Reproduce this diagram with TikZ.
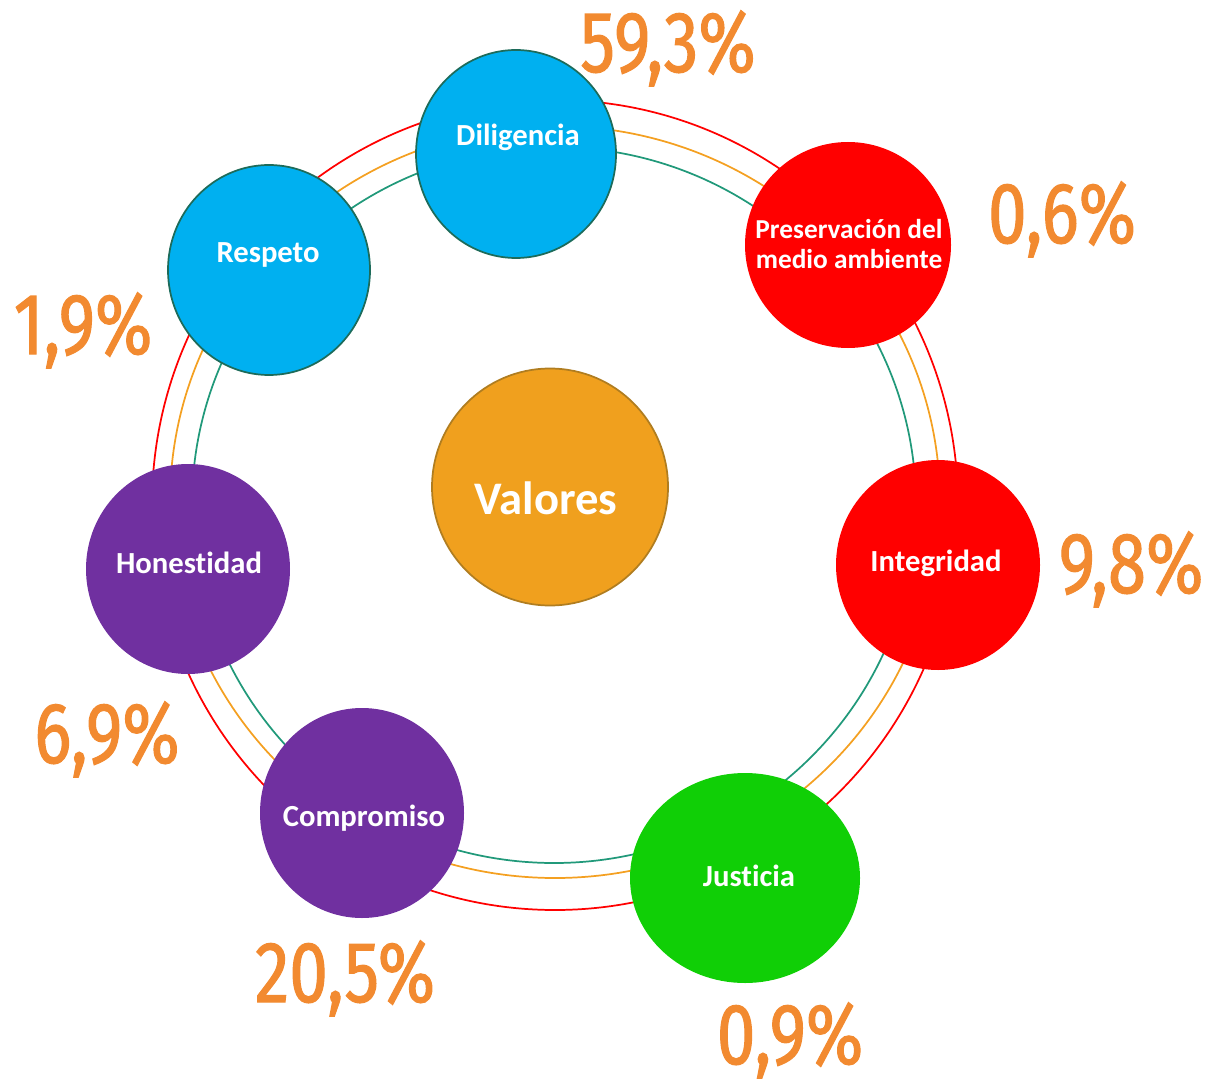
\documentclass[tikz,border=0pt]{standalone}
\usepackage{fontspec}
\setmainfont{Carlito}[Ligatures=NoCommon]
\newfontfamily\pctfont[FakeStretch=0.8,FakeBold=1.2]{Fira Sans}
\usetikzlibrary{shapes.geometric}
\definecolor{ringred}{HTML}{FF0000}
\definecolor{ringorange}{HTML}{F4A021}
\definecolor{ringgreen}{HTML}{21997A}
\definecolor{cyanfill}{HTML}{00B0F0}
\definecolor{cyanedge}{HTML}{1D6B5A}
\definecolor{redfill}{HTML}{FF0000}
\definecolor{greenfill}{HTML}{10CF06}
\definecolor{purplefill}{HTML}{7030A0}
\definecolor{valfill}{HTML}{F0A01E}
\definecolor{valedge}{HTML}{B07D20}
\definecolor{pctorange}{HTML}{F28A30}
\tikzset{
  valor/.style={ellipse, inner sep=0pt},
  etiq/.style={text=white, font=\bfseries\fontsize{23}{27}\selectfont, align=center, inner sep=0pt},
  pct/.style={text=pctorange, font=\pctfont\fontsize{65}{65}\selectfont, anchor=base, inner sep=0pt},
  ring/.style={line width=1.3pt}
}

\begin{document}
\begin{tikzpicture}[x=0.75pt,y=-0.75pt]
\useasboundingbox (0,0) rectangle (1212,1087);

\draw[ring,ringred] (555,505) ellipse [x radius=302.25pt, y radius=303.75pt];
\draw[ring,ringorange] (555,502) ellipse [x radius=288.75pt, y radius=282pt];
\draw[ring,ringgreen] (554,505) ellipse [x radius=271.5pt, y radius=268.5pt];

\node[valor,fill=cyanfill,draw=cyanedge,line width=1.3pt,minimum width=150pt,minimum height=156pt] (dil) at (516,154) {};
\node[valor,fill=redfill,minimum width=154.5pt,minimum height=154.5pt] (pres) at (848,245) {};
\node[valor,fill=redfill,minimum width=153pt,minimum height=157.5pt] (integ) at (938,565) {};
\node[valor,fill=greenfill,minimum width=172.5pt,minimum height=157.5pt] (just) at (745,878) {};
\node[valor,fill=purplefill,minimum width=153pt,minimum height=157.5pt] (comp) at (362,813) {};
\node[valor,fill=purplefill,minimum width=153pt,minimum height=157.5pt] (hon) at (188,569) {};
\node[valor,fill=cyanfill,draw=cyanedge,line width=1.3pt,minimum width=151.5pt,minimum height=157.5pt] (resp) at (269,270) {};
\node[valor,fill=valfill,draw=valedge,line width=1.3pt,minimum width=177pt,minimum height=177.75pt] (val) at (550,487) {};

\node[etiq] (tdil) at (518,137) {Diligencia};
\node[etiq,font=\bfseries\fontsize{20.5}{23}\selectfont] (tpres) at (849,244) {Preservación del\\medio ambiente};
\node[etiq] (tinteg) at (936,563) {Integridad};
\node[etiq] (tjust) at (749,876) {Justicia};
\node[etiq] (tcomp) at (364,818) {Compromiso};
\node[etiq] (thon) at (189,563) {Honestidad};
\node[etiq] (tresp) at (268,255) {Respeto};
\node[etiq,font=\bfseries\fontsize{35}{40}\selectfont] (tval) at (546,498) {Valores};

\node[pct] (pdil) at (668,72) {59,3\%};
\node[pct] (ppres) at (1062,243) {0,6\%};
\node[pct] (pinteg) at (1131,593) {9,8\%};
\node[pct] (pjust) at (790,1064) {0,9\%};
\node[pct] (pcomp) at (345,1002) {20,5\%};
\node[pct] (phon) at (107,763) {6,9\%};
\node[pct] (presp) at (83,354) {1,9\%};

\end{tikzpicture}
\end{document}
